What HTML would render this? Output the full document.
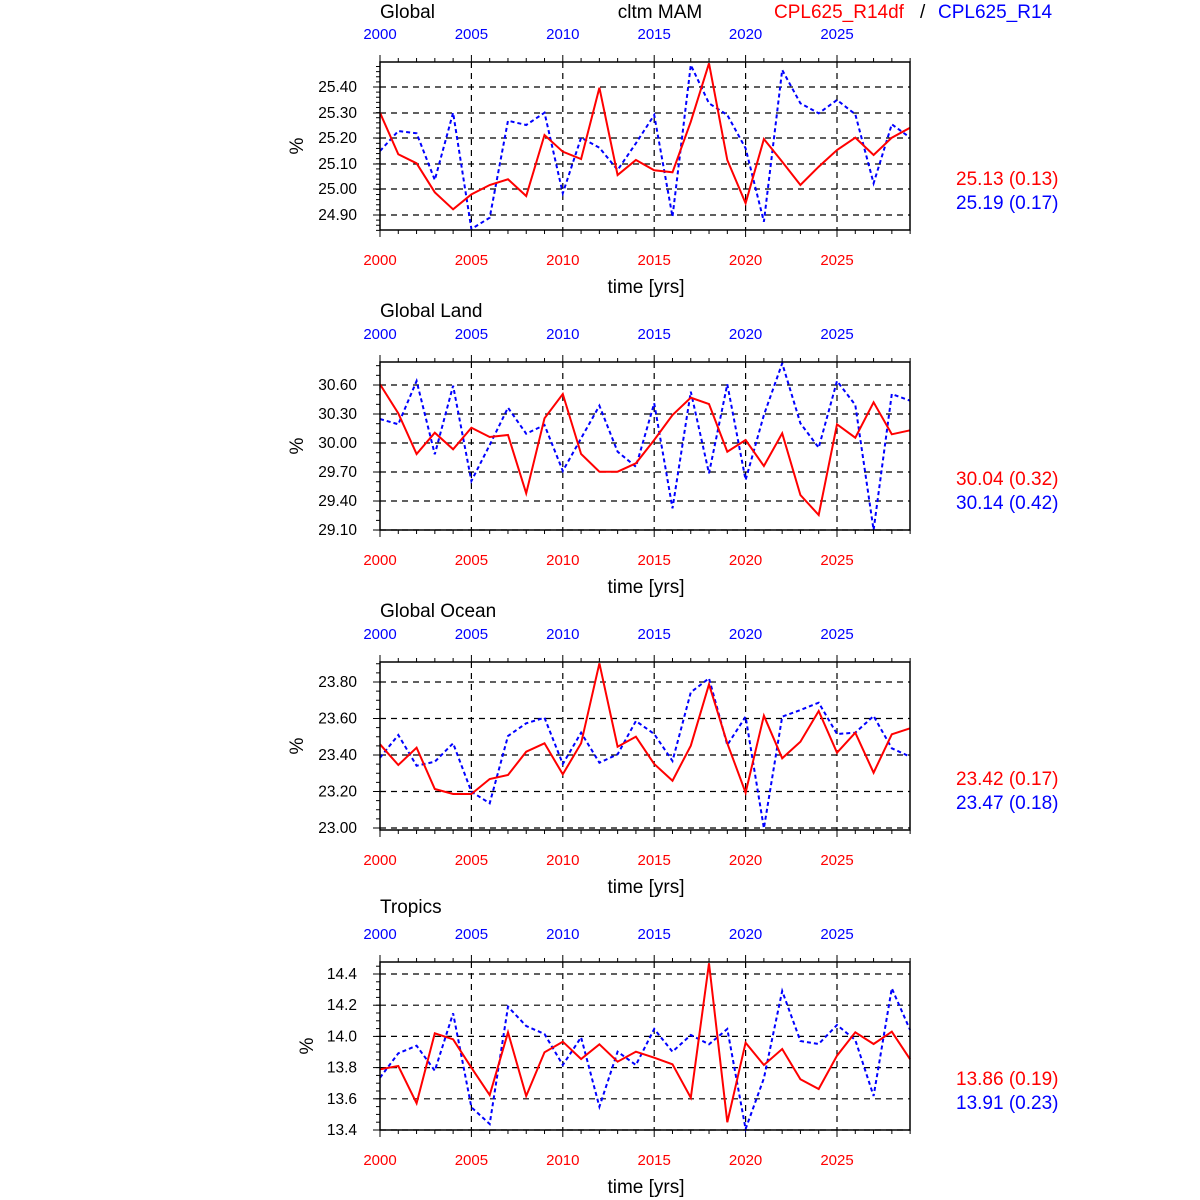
<!DOCTYPE html>
<html><head><meta charset="utf-8"><style>
html,body{margin:0;padding:0;background:#fff;}
svg{display:block;font-family:"Liberation Sans",sans-serif;}
</style></head><body>
<svg id="s" width="1200" height="1200" viewBox="0 0 1200 1200" xmlns="http://www.w3.org/2000/svg">
<text x="380" y="18" font-size="19">Global</text>
<text x="660" y="18" font-size="19" text-anchor="middle">cltm MAM</text>
<text x="774" y="18" font-size="19" fill="#f00">CPL625_R14df</text>
<text x="920" y="18" font-size="19">/</text>
<text x="938" y="18" font-size="19" fill="#00f">CPL625_R14</text>
<text x="380" y="317" font-size="19">Global Land</text>
<text x="380" y="617" font-size="19">Global Ocean</text>
<text x="380" y="913" font-size="19">Tropics</text>
</svg>
<script>
var S=document.getElementById('s'),NS='http://www.w3.org/2000/svg';
function el(t,a,txt){var e=document.createElementNS(NS,t);for(var k in a)e.setAttribute(k,a[k]);if(txt!==undefined)e.textContent=txt;S.appendChild(e);return e;}
var X0=380,X1=910,DX=18.28;
var P=[
{off:55,top:62,bot:230,grid:[87,113,138,164,189,215],labs:["25.40","25.30","25.20","25.10","25.00","24.90"],minor:5.12,px:297,stats:["25.13 (0.13)","25.19 (0.17)"],
r:[173,298,325,412,463,418,390,373,423,240,290,312,98,360,315,346,352,200,25,315,445,252,320,390,335,285,248,300,248,218],
b:[288,228,235,375,173,522,488,197,210,173,415,248,278,345,265,180,485,30,145,180,280,500,45,145,175,135,178,385,208,248]},
{off:355,top:362,bot:530,grid:[385,414,443,472,501,530],labs:["30.60","30.30","30.00","29.70","29.40","29.10"],minor:9.67,px:297,stats:["30.04 (0.32)","30.14 (0.42)"],
r:[88,175,297,233,283,218,246,240,415,190,117,297,350,350,325,255,180,128,147,290,255,333,235,420,480,208,248,142,238,226],
b:[192,208,78,298,92,378,270,158,236,210,348,250,152,290,335,145,460,110,355,88,375,180,25,205,278,78,150,525,117,137]},
{off:655,top:662,bot:830,grid:[682,718.5,755,791.5,828],labs:["23.80","23.60","23.40","23.20","23.00"],minor:9.125,px:297,stats:["23.42 (0.17)","23.47 (0.18)"],
r:[268,330,278,402,417,417,372,360,290,265,358,265,25,275,245,327,377,272,88,265,413,182,310,260,168,293,233,353,238,220],
b:[308,240,332,320,265,410,445,243,205,188,327,233,323,298,198,237,318,112,70,270,185,520,185,165,143,237,233,183,280,305]},
{off:955,top:962,bot:1130,grid:[974,1005.2,1036.4,1067.6,1098.8,1130],labs:["14.4","14.2","14.0","13.8","13.6","13.4"],minor:7.8,px:307,stats:["13.86 (0.19)","13.91 (0.23)"],
r:[343,333,445,235,253,338,420,232,423,292,260,312,268,320,290,308,328,428,25,502,263,330,282,373,402,302,232,267,230,313],
b:[368,295,272,347,175,457,507,155,213,237,330,247,455,290,330,222,290,240,268,222,522,370,108,258,267,210,255,423,100,225]}
];
P.forEach(function(p,k){
  var o=k*300;
  p.grid.forEach(function(y){el('line',{x1:X0,x2:X1,y1:y,y2:y,stroke:'#000','stroke-width':1.2,'stroke-dasharray':'6,5'});});
  for(var yr=5;yr<30;yr+=5){var x=X0+yr*DX;el('line',{x1:x,x2:x,y1:p.top,y2:p.bot,stroke:'#000','stroke-width':1.2,'stroke-dasharray':'6,5'});}
  for(var i=0;i<=29;i++){var x=X0+i*DX,L=(i%5==0)?7:4;
    el('line',{x1:x,x2:x,y1:p.top,y2:p.top-L,stroke:'#000','stroke-width':1});
    el('line',{x1:x,x2:x,y1:p.bot,y2:p.bot+L,stroke:'#000','stroke-width':1});
    if(i%5==0){el('text',{x:x,y:p.top-23,'font-size':15,fill:'#00f','text-anchor':'middle'},String(2000+i));
      el('text',{x:x,y:p.bot+35,'font-size':15,fill:'#f00','text-anchor':'middle'},String(2000+i));}
  }
  var g0=p.grid[0];
  for(var y=g0-Math.floor((g0-p.top)/p.minor)*p.minor;y<=p.bot+0.5;y+=p.minor){
    el('line',{x1:X0,x2:X0-4,y1:y,y2:y,stroke:'#000','stroke-width':1});}
  p.grid.forEach(function(y,j){el('line',{x1:X0,x2:X0-7,y1:y,y2:y,stroke:'#000','stroke-width':1});
    el('text',{x:357,y:y+5,'font-size':15.5,'text-anchor':'end'},p.labs[j]);});
  function pts(a){return a.map(function(v,i){return (X0+i*DX).toFixed(1)+','+(p.off+v/3).toFixed(1);}).join(' ');}
  el('polyline',{points:pts(p.b),fill:'none',stroke:'#00f','stroke-width':2,'stroke-dasharray':'4,3'});
  el('polyline',{points:pts(p.r),fill:'none',stroke:'#f00','stroke-width':2});
  el('rect',{x:X0,y:p.top,width:X1-X0,height:p.bot-p.top,fill:'none',stroke:'#000','stroke-width':1.5});
  var cy=(p.top+p.bot)/2;
  el('text',{x:p.px,y:cy,'font-size':19,'text-anchor':'middle',transform:'rotate(-90 '+p.px+' '+cy+')',dy:6},'%');
  el('text',{x:646,y:p.bot+63,'font-size':19,'text-anchor':'middle'},'time [yrs]');
  el('text',{x:956,y:185+o,'font-size':19,fill:'#f00'},p.stats[0]);
  el('text',{x:956,y:209+o,'font-size':19,fill:'#00f'},p.stats[1]);
});
</script>
</body></html>
